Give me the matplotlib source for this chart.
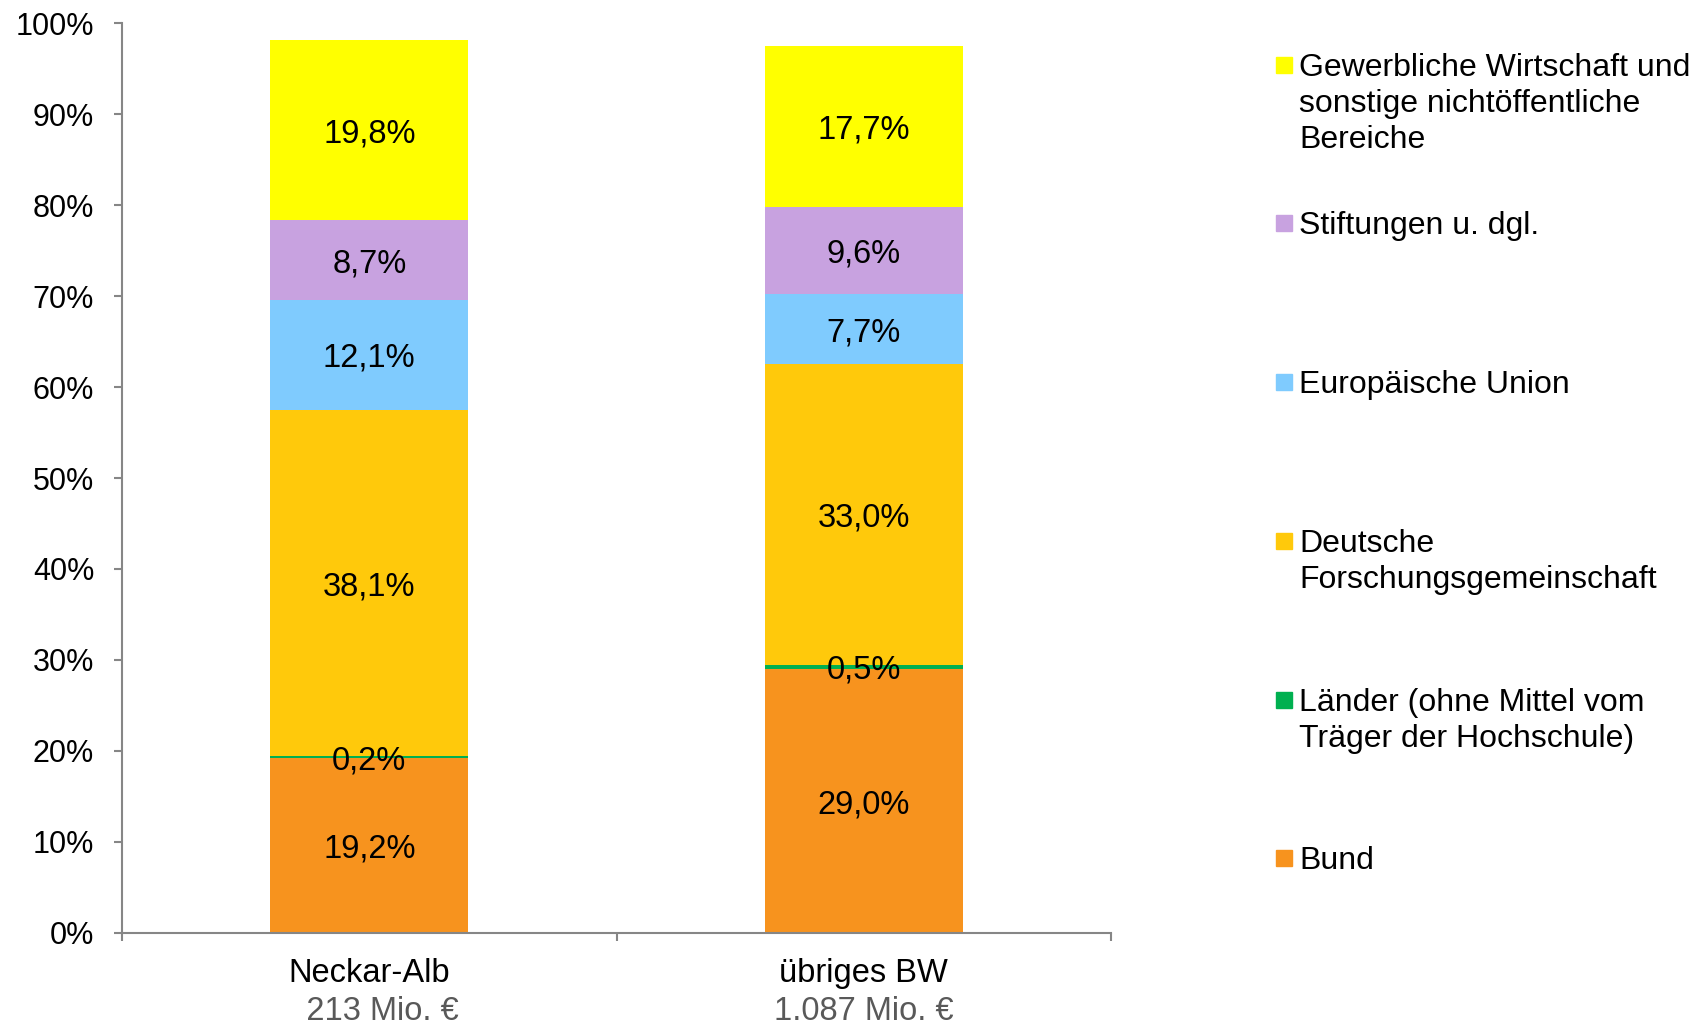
import numpy as np
import matplotlib.pyplot as plt
from matplotlib.patches import Rectangle

# data (shares in %)
regions = ["Neckar-Alb", "übriges BW"]
totals = ["   213 Mio. €", "1.087 Mio. €"]
sources = ["Bund", "Länder (ohne Mittel vom\nTräger der Hochschule)",
           "Deutsche\nForschungsgemeinschaft", "Europäische Union",
           "Stiftungen u. dgl.",
           "Gewerbliche Wirtschaft und\nsonstige nichtöffentliche\nBereiche"]
bund = [19.2, 29.0]
laender = [0.2, 0.5]
dfg = [38.1, 33.0]
eu = [12.1, 7.7]
stiftungen = [8.7, 9.6]
gewerbe = [19.8, 17.7]
colors = ["#F7931E", "#00B050", "#FFC90B", "#7FCBFE", "#C8A2E0", "#FFFF00"]

plt.rcParams['font.family'] = ["Liberation Sans", "DejaVu Sans"]

fig = plt.figure(figsize=(16.99, 10.24), dpi=100)
ax = fig.add_axes([0.0718, 0.0889, 0.654 - 0.0718, 0.9775 - 0.0889])

series = [bund, laender, dfg, eu, stiftungen, gewerbe]
x = np.arange(len(regions))
bottom = np.zeros(len(regions))
for vals, col in zip(series, colors):
    vals = np.array(vals)
    ax.bar(x, vals, 0.4, bottom=bottom, color=col, linewidth=0)
    for xi, v, b in zip(x, vals, bottom):
        ax.text(xi, b + v / 2, f"{v:.1f}%".replace(".", ","), ha="center",
                va="center_baseline", fontsize=23.5, color="black")
    bottom += vals

ax.set_xlim(-0.5, 1.5)
ax.set_ylim(0, 100)
ax.set_yticks(np.arange(0, 101, 10))
ax.set_yticklabels([f"{v}%" for v in range(0, 101, 10)], fontsize=22)
ax.set_xticks([-0.5, 0.5, 1.5])
ax.set_xticklabels([])
for s in ["top", "right"]:
    ax.spines[s].set_visible(False)
for s in ["left", "bottom"]:
    ax.spines[s].set_color("#868686")
    ax.spines[s].set_linewidth(1.5)
ax.tick_params(axis="both", direction="out", length=6, width=1.5, color="#868686")
ax.tick_params(axis="y", pad=14)

# category labels with totals
for xi, name, tot in zip(x, regions, totals):
    ax.text(xi, -0.041, name, transform=ax.get_xaxis_transform(), ha="center",
            va="center_baseline", fontsize=23.5, color="black")
    ax.text(xi, -0.082, tot, transform=ax.get_xaxis_transform(), ha="center",
            va="center_baseline", fontsize=23.5, color="#595959")

# legend drawn by hand, top entry first
W, H = 1699, 1024
leg_y = [858, 700, 541, 382, 223, 65]
for lab, col, yp in zip(sources, colors, leg_y):
    fig.patches.append(Rectangle((1276 / W, 1 - (yp + 8) / H), 16 / W, 16 / H,
                                 transform=fig.transFigure, color=col))
    fig.text(1299 / W, 1 - (yp - 12) / H, lab, ha="left", va="top",
             fontsize=23, linespacing=1.25)

fig.savefig("out.png", dpi=100)
